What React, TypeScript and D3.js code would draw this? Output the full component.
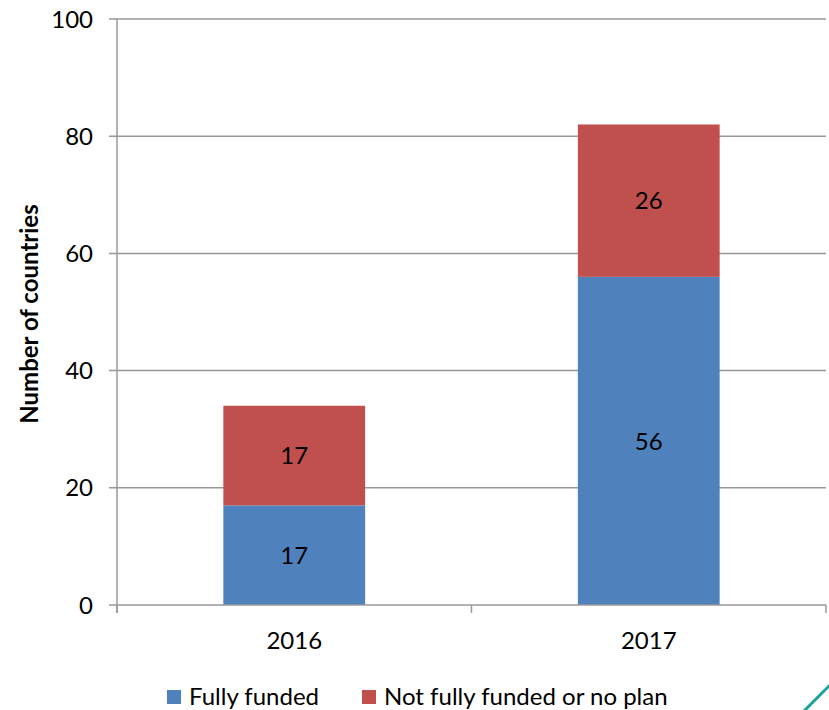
import React from 'react';
import * as d3 from 'd3';

// chart values
const years = ['2016', '2017'];
const fullyFunded = [17, 56];
const notFullyFunded = [17, 26];
const yTicks = [0, 20, 40, 60, 80, 100];
const seriesNames = ['Fully funded', 'Not fully funded or no plan'];
const seriesColors = ['#4F81BD', '#C0504D'];

const W = 829;
const H = 710;
const FONT = 'Lato, "Open Sans", sans-serif';
const FS = 24;

const App = () => {
  const margin = { top: 19, right: 3, bottom: 105, left: 117 };
  const plotRight = W - margin.right;
  const plotBottom = H - margin.bottom;

  const x = d3.scaleBand().domain(years).range([margin.left, plotRight]).padding(0);
  const y = d3.scaleLinear().domain([0, 100]).range([plotBottom, margin.top]);

  // stack the two series
  const rows = years.map((yr, i) => ({ year: yr, a: fullyFunded[i], b: notFullyFunded[i] }));
  const stacked = d3.stack<any>().keys(['a', 'b'])(rows);

  const barW = x.bandwidth() * 0.4;
  const gridColor = '#989898';

  // x tick positions: band boundaries
  const xTickPos = years.map((d) => x(d) as number).concat([plotRight]);

  return (
    <svg width={W} height={H} style={{ position: 'absolute', left: 0, top: 0, background: '#fff' }}>
      {/* gridlines */}
      {yTicks.filter((t) => t > 0).map((t) => (
        <line key={'g' + t} x1={margin.left - 8} x2={plotRight} y1={y(t)} y2={y(t)} stroke={gridColor} strokeWidth={1.5} />
      ))}

      {/* bars */}
      {stacked.map((layer, si) => (
        <g key={'s' + si}>
          {layer.map((d, i) => {
            const x0 = (x(years[i]) as number) + x.bandwidth() / 2 - barW / 2;
            return (
              <g key={'b' + i}>
                <rect x={x0} y={y(d[1])} width={barW} height={y(d[0]) - y(d[1])} fill={seriesColors[si]} />
                <text
                  x={x0 + barW / 2}
                  y={(y(d[0]) + y(d[1])) / 2}
                  dy="0.36em"
                  textAnchor="middle"
                  fontFamily={FONT}
                  fontSize={FS}
                  fill="#000"
                >
                  {d[1] - d[0]}
                </text>
              </g>
            );
          })}
        </g>
      ))}

      {/* y axis */}
      <line x1={margin.left} x2={margin.left} y1={margin.top} y2={plotBottom + 8} stroke={gridColor} strokeWidth={1.5} />
      <line x1={margin.left - 8} x2={margin.left} y1={y(0)} y2={y(0)} stroke={gridColor} strokeWidth={1.5} />
      {yTicks.map((t) => (
        <text key={'yt' + t} x={margin.left - 24} y={y(t)} dy="0.36em" textAnchor="end" fontFamily={FONT} fontSize={FS} fill="#000">
          {t}
        </text>
      ))}

      {/* x axis */}
      <line x1={margin.left} x2={plotRight} y1={plotBottom} y2={plotBottom} stroke={gridColor} strokeWidth={1.5} />
      {xTickPos.map((p, i) => (
        <line key={'xt' + i} x1={p} x2={p} y1={plotBottom} y2={plotBottom + 8} stroke={gridColor} strokeWidth={1.5} />
      ))}
      {years.map((yr) => (
        <text key={'xl' + yr} x={(x(yr) as number) + x.bandwidth() / 2} y={plotBottom + 44} textAnchor="middle" fontFamily={FONT} fontSize={FS} fill="#000">
          {yr}
        </text>
      ))}

      {/* y title */}
      <text
        transform={`translate(38, ${(margin.top + plotBottom) / 2 + 2}) rotate(-90)`}
        textAnchor="middle"
        fontFamily={FONT}
        fontWeight="bold"
        fontSize={24}
        fill="#000"
      >
        Number of countries
      </text>

      {/* legend */}
      {seriesNames.map((name, i) => {
        const lx = i === 0 ? 167 : 362;
        return (
          <g key={'lg' + i}>
            <rect x={lx} y={690} width={14} height={14} fill={seriesColors[i]} />
            <text x={lx + 22} y={705} fontFamily={FONT} fontSize={FS} fill="#000">
              {name}
            </text>
          </g>
        );
      })}

      {/* slide decoration */}
      <line x1={801} y1={714} x2={834} y2={681} stroke="#1AA39A" strokeWidth={3} />
    </svg>
  );
};

export default App;
